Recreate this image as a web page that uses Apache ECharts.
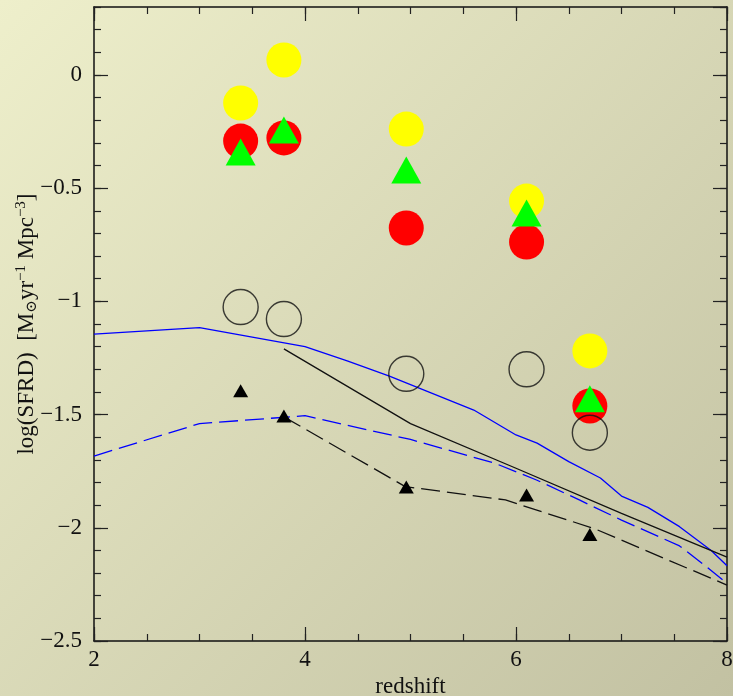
<!DOCTYPE html>
<html>
<head>
<meta charset="utf-8">
<script src="https://cdn.jsdelivr.net/npm/echarts@6/dist/echarts.min.js"></script>
<style>
html,body{margin:0;padding:0;}
#main{width:733px;height:696px;}
</style>
</head>
<body>
<div id="main"></div>
<script>
// Data
var redshifts = [3.39, 3.80, 4.96, 6.10, 6.70];
var yellowVals = [-0.124, 0.066, -0.239, -0.557, -1.219];
var redVals = [-0.292, -0.278, -0.676, -0.738, -1.462];
var greenVals = [-0.34, -0.243, -0.42, -0.61, -1.43];
var openVals = [-1.025, -1.078, -1.32, -1.30, -1.58];
var blackTriVals = [-1.395, -1.506, -1.82, -1.855, -2.03];

var blueSolidX = [2.0, 3.0, 4.0, 4.4, 4.8, 5.2, 5.6, 6.0, 6.2, 6.5, 6.8, 7.0, 7.25, 7.55, 7.85, 8.0];
var blueSolidY = [-1.145, -1.116, -1.20, -1.263, -1.33, -1.405, -1.48, -1.59, -1.626, -1.708, -1.78, -1.86, -1.91, -1.995, -2.10, -2.168];
var blueDashX = [2.0, 3.0, 4.0, 5.0, 5.8, 6.2, 6.6, 7.0, 7.55, 7.8, 8.0];
var blueDashY = [-1.683, -1.54, -1.505, -1.61, -1.715, -1.79, -1.877, -1.966, -2.08, -2.17, -2.245];
var blackSolidX = [3.8, 5.0, 6.0, 7.0, 8.0];
var blackSolidY = [-1.21, -1.54, -1.737, -1.936, -2.13];
var blackDashX = [3.8, 4.95, 5.9, 6.75, 8.0];
var blackDashY = [-1.51, -1.818, -1.877, -2.005, -2.253];

var xTicks = {min: 2, max: 8, major: 2, minor: 0.5};
var yTicks = {min: -2.5, max: 0.3, major: 0.5, minor: 0.1};

function pairs(xs, ys) { return xs.map(function (x, i) { return [x, ys[i]]; }); }

var FONT = 'Liberation Serif';
var chart = echarts.init(document.getElementById('main'), null, {renderer: 'canvas'});

function xAx(pos, interval, len, label, line) {
  return {
    type: 'value', position: pos, min: xTicks.min, max: xTicks.max, interval: interval,
    axisLine: {show: line, onZero: false, lineStyle: {color: '#111', width: 1.5}},
    axisTick: {show: true, inside: true, length: len, lineStyle: {color: '#222', width: 1.2}},
    axisLabel: {show: label, color: '#111', fontFamily: FONT, fontSize: 23, margin: 7},
    splitLine: {show: false}
  };
}
function yAx(pos, interval, len, label, line) {
  return {
    type: 'value', position: pos, min: yTicks.min, max: yTicks.max, interval: interval,
    axisLine: {show: line, onZero: false, lineStyle: {color: '#111', width: 1.5}},
    axisTick: {show: true, inside: true, length: len, lineStyle: {color: '#222', width: 1.2}},
    axisLabel: {show: label, color: '#111', fontFamily: FONT, fontSize: 23, margin: 12,
      showMaxLabel: false,
      formatter: function (v) { var s = (Math.round(v * 10) / 10).toString(); return s.replace('-', '\u2212'); }},
    splitLine: {show: false}
  };
}

var xAxes = [
  xAx('bottom', xTicks.major, 14, true, true),
  xAx('bottom', xTicks.minor, 7, false, false),
  xAx('top', xTicks.major, 14, false, true),
  xAx('top', xTicks.minor, 7, false, false)
];
xAxes[0].name = 'redshift';
xAxes[0].nameLocation = 'middle';
xAxes[0].nameGap = 33;
xAxes[0].nameTextStyle = {color: '#111', fontFamily: FONT, fontSize: 23};

var yAxes = [
  yAx('left', yTicks.major, 14, true, true),
  yAx('left', yTicks.minor, 7, false, false),
  yAx('right', yTicks.major, 14, false, true),
  yAx('right', yTicks.minor, 7, false, false)
];
yAxes[0].name = '{a|log(SFRD)  [M}{s|\u2299}{a|yr}{p|\u22121}{a| Mpc}{p|\u22123}{a|]}';
yAxes[0].nameLocation = 'middle';
yAxes[0].nameGap = 53;
yAxes[0].nameMoveOverlap = false;
yAxes[0].nameTextStyle = {
  color: '#111', fontFamily: FONT, fontSize: 23,
  rich: {
    a: {fontFamily: FONT, fontSize: 23, color: '#111', lineHeight: 28},
    s: {fontFamily: 'DejaVu Serif', fontSize: 15, color: '#111', padding: [11, 0, 0, 0], lineHeight: 28},
    p: {fontFamily: FONT, fontSize: 15, color: '#111', padding: [0, 0, 11, 0], lineHeight: 28}
  }
};

function scat(name, ys, symbol, size, color, z, stroke) {
  return {
    name: name, type: 'scatter', symbol: symbol, symbolSize: size, z: z,
    data: pairs(redshifts, ys),
    itemStyle: stroke ? {color: 'rgba(0,0,0,0)', borderColor: '#111', borderWidth: 1.4} : {color: color, opacity: 1},
    emphasis: {disabled: true}
  };
}
function line(name, xs, ys, color, dashed) {
  return {
    name: name, type: 'line', showSymbol: false, symbol: 'none', z: 3,
    data: pairs(xs, ys),
    lineStyle: {color: color, width: 1.3, type: dashed ? [19, 7] : 'solid'},
    emphasis: {disabled: true}
  };
}

chart.setOption({
  animation: false,
  backgroundColor: new echarts.graphic.LinearGradient(0, 0, 1, 1, [
    {offset: 0, color: '#eeefcb'},
    {offset: 1, color: '#c2c1a2'}
  ]),
  grid: {left: 94, right: 6, top: 7, bottom: 55, containLabel: false, outerBoundsMode: 'none'},
  xAxis: xAxes,
  yAxis: yAxes,
  series: [
    line('blue solid', blueSolidX, blueSolidY, '#0000ff', false),
    line('blue dashed', blueDashX, blueDashY, '#0000ff', true),
    line('black solid', blackSolidX, blackSolidY, '#111', false),
    line('black dashed', blackDashX, blackDashY, '#111', true),
    scat('yellow', yellowVals, 'circle', 35, '#ffff00', 4, false),
    scat('red', redVals, 'circle', 35, '#ff0000', 5, false),
    scat('green', greenVals, 'triangle', [30, 27], '#00ff00', 6, false),
    scat('open', openVals, 'circle', 35, null, 7, true),
    scat('black tri', blackTriVals, 'triangle', [15, 13], '#000000', 8, false)
  ]
});
</script>
</body>
</html>
